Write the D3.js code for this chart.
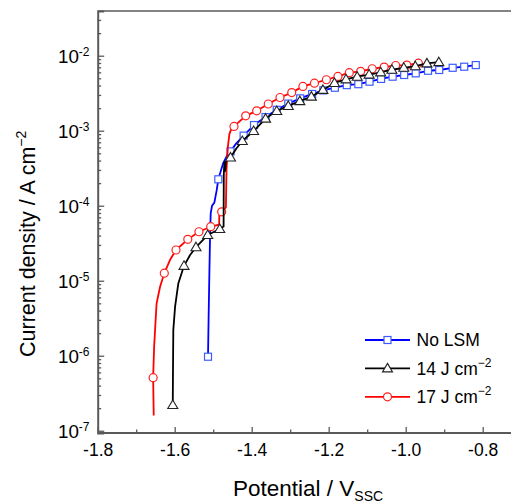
<!DOCTYPE html>
<html>
<head>
<meta charset="utf-8">
<script type="text/javascript" src="https://cdn.jsdelivr.net/npm/d3@7"></script>
<style>
    body { margin: 0; background: #fff; }
    text { font-family: Arial, "Liberation Sans", sans-serif; fill: #000; }
</style>
</head>
<body>
<div id="chart"></div>
<script type="text/javascript">
    // [potential V, current A/cm2, marker?]
    var noLSM = [
        [-1.5135, 9.7e-7, 1], [-1.512, 3e-6, 0], [-1.510, 1.2e-5, 0], [-1.508, 4.3e-5, 0],
        [-1.5065, 7.9e-5, 0], [-1.503, 1.0e-4, 0], [-1.497, 1.1e-4, 0], [-1.491, 1.6e-4, 0],
        [-1.4867, 2.25e-4, 1], [-1.474, 3.7e-4, 0], [-1.461, 5.0e-4, 0], [-1.455, 5.3e-4, 1],
        [-1.440, 6.8e-4, 0], [-1.421, 8.6e-4, 1], [-1.394, 1.19e-3, 1], [-1.364, 1.52e-3, 1],
        [-1.335, 1.9e-3, 1], [-1.305, 2.3e-3, 1], [-1.274, 2.7e-3, 1], [-1.243, 3.09e-3, 1],
        [-1.214, 3.45e-3, 1], [-1.184, 3.74e-3, 1], [-1.153, 4.05e-3, 1], [-1.123, 4.17e-3, 1],
        [-1.094, 4.5e-3, 1], [-1.064, 4.9e-3, 1], [-1.034, 5.25e-3, 1], [-1.004, 5.53e-3, 1],
        [-0.974, 5.82e-3, 1], [-0.942, 6.3e-3, 1], [-0.913, 6.45e-3, 1], [-0.878, 6.9e-3, 1],
        [-0.848, 7.13e-3, 1], [-0.818, 7.5e-3, 1]
    ];
    var lsm14 = [
        [-1.605, 2.2e-7, 1], [-1.6045, 6e-7, 0], [-1.6036, 2.2e-6, 0], [-1.599, 4.5e-6, 0],
        [-1.5906, 9.2e-6, 0], [-1.5758, 1.58e-5, 1], [-1.56, 2.2e-5, 0], [-1.5447, 2.8e-5, 1],
        [-1.5143, 4.07e-5, 1], [-1.483, 4.9e-5, 1], [-1.473, 5.3e-5, 0], [-1.4725, 2.6e-4, 0],
        [-1.471, 3.8e-4, 0], [-1.469, 2.9e-4, 0], [-1.467, 3.9e-4, 0], [-1.455, 4.4e-4, 1],
        [-1.44, 5.8e-4, 0], [-1.4244, 7.3e-4, 1], [-1.395, 9.9e-4, 1], [-1.364, 1.45e-3, 1],
        [-1.335, 1.83e-3, 1], [-1.305, 2.14e-3, 1], [-1.275, 2.48e-3, 1], [-1.245, 2.85e-3, 1],
        [-1.215, 3.5e-3, 1], [-1.185, 4.33e-3, 1], [-1.155, 4.84e-3, 1], [-1.126, 5.25e-3, 1],
        [-1.095, 5.6e-3, 1], [-1.065, 6.0e-3, 1], [-1.036, 6.5e-3, 1], [-1.005, 6.9e-3, 1],
        [-0.975, 7.25e-3, 1], [-0.945, 7.9e-3, 1], [-0.914, 8.2e-3, 1]
    ];
    var lsm17 = [
        [-1.6545, 1.6e-7, 0], [-1.656, 5.1e-7, 1], [-1.6535, 1.3e-6, 0], [-1.651, 2.2e-6, 0],
        [-1.647, 5e-6, 0], [-1.638, 8.3e-6, 0], [-1.627, 1.26e-5, 1], [-1.612, 1.9e-5, 0],
        [-1.5966, 2.57e-5, 1], [-1.566, 3.56e-5, 1], [-1.537, 4.5e-5, 1], [-1.5065, 5.25e-5, 1],
        [-1.4845, 5.6e-5, 0], [-1.484, 8.5e-5, 0], [-1.478, 8.3e-5, 1], [-1.467, 9.5e-5, 0],
        [-1.4655, 3.0e-4, 0], [-1.462, 6.0e-4, 0], [-1.458, 9.0e-4, 0], [-1.453, 1.05e-3, 0],
        [-1.446, 1.14e-3, 1], [-1.4156, 1.58e-3, 1], [-1.387, 1.84e-3, 1], [-1.357, 2.27e-3, 1],
        [-1.3265, 2.77e-3, 1], [-1.296, 3.22e-3, 1], [-1.267, 3.9e-3, 1], [-1.237, 4.3e-3, 1],
        [-1.206, 4.78e-3, 1], [-1.176, 5.3e-3, 1], [-1.1465, 5.94e-3, 1], [-1.117, 6.2e-3, 1],
        [-1.087, 6.7e-3, 1], [-1.056, 7.05e-3, 1], [-1.026, 7.4e-3, 1], [-0.997, 7.5e-3, 1],
        [-0.967, 7.95e-3, 1]
    ];

    var seriesNames = ["No LSM", "14 J cm", "17 J cm"];
    var seriesSups = ["", "\u22122", "\u22122"];
    var xTicks = [-1.8, -1.6, -1.4, -1.2, -1.0, -0.8];
    var xMinor = [-1.7, -1.5, -1.3, -1.1, -0.9];
    var yExps = [-7, -6, -5, -4, -3, -2];

    var width = 511, height = 504;
    var plotL = 97.7, plotR = 521.2, plotT = 11, plotB = 433;

    var svg = d3.select("#chart").append("svg")
        .attr("width", width)
        .attr("height", height);

    var x = d3.scaleLinear().domain([-1.8, -0.7]).range([plotL, plotR]);
    var y = d3.scaleLog().domain([Math.pow(10, -7.03), Math.pow(10, -1.404)]).range([plotB, plotT]);

    var axisColor = "#5a5a5a";

    // minor y ticks 2..9 of each decade
    var yMinor = [];
    for (var e = -7; e <= -2; e++) {
        for (var k = 2; k <= 9; k++) {
            var v = k * Math.pow(10, e);
            if (v < y.domain()[1]) yMinor.push(v);
        }
    }

    var gx = svg.append("g").attr("transform", "translate(0," + plotB + ")");
    gx.call(d3.axisBottom(x).tickValues(xTicks).tickSize(-6).tickPadding(11)
        .tickFormat(function (d) { return d.toFixed(1); }));
    gx.selectAll(".tick text").style("font-size", "17.5px").attr("fill", "#000");
    gx.select(".domain").attr("d", "M" + plotL + ",0H" + width);

    var gxm = svg.append("g").attr("transform", "translate(0," + plotB + ")");
    gxm.call(d3.axisBottom(x).tickValues(xMinor).tickSize(-3.5).tickFormat(""));
    gxm.select(".domain").remove();

    var gy = svg.append("g").attr("transform", "translate(" + plotL + ",0)");
    gy.call(d3.axisLeft(y).tickValues(yExps.map(function (d) { return Math.pow(10, d); }))
        .tickSize(-6.5).tickFormat(""));
    var gym = svg.append("g").attr("transform", "translate(" + plotL + ",0)");
    gym.call(d3.axisLeft(y).tickValues(yMinor).tickSize(-3.5).tickFormat(""));
    gym.select(".domain").remove();

    svg.selectAll(".domain").attr("stroke", axisColor).attr("stroke-width", 2);
    svg.selectAll(".tick line").attr("stroke", axisColor).attr("stroke-width", 1.3);

    // top frame line
    svg.append("line")
        .attr("x1", plotL).attr("x2", width)
        .attr("y1", plotT).attr("y2", plotT)
        .attr("stroke", axisColor).attr("stroke-width", 1.5);

    // y tick labels 10^n
    var ylab = svg.append("g").selectAll("text").data(yExps).enter().append("text")
        .attr("x", 89.5)
        .attr("y", function (d) { return y(Math.pow(10, d)) + 7.6; })
        .attr("text-anchor", "end")
        .style("font-size", "18.8px");
    ylab.append("tspan").text("10");
    ylab.append("tspan").attr("dy", -7.6).style("font-size", "12px")
        .text(function (d) { return String(d); });

    // axis titles
    var yt = svg.append("text")
        .attr("transform", "translate(34.5,357) rotate(-90)")
        .style("font-size", "21.5px");
    yt.append("tspan").text("Current density / A cm");
    yt.append("tspan").attr("dy", -9).style("font-size", "14px").text("\u22122");

    var xt = svg.append("text")
        .attr("x", 233).attr("y", 496)
        .style("font-size", "22.5px");
    xt.append("tspan").text("Potential / V");
    xt.append("tspan").attr("dy", 5).style("font-size", "14px").text("SSC");

    var line = d3.line()
        .x(function (d) { return x(d[0]); })
        .y(function (d) { return y(d[1]); });

    function square(g, cx, cy, col) {
        g.append("rect").attr("x", cx - 3.5).attr("y", cy - 3.5)
            .attr("width", 7).attr("height", 7)
            .attr("fill", "#fff").attr("stroke", col).attr("stroke-width", 1.2);
    }
    function triangle(g, cx, cy, col) {
        g.append("path")
            .attr("d", "M" + cx + "," + (cy - 5) + "L" + (cx + 5) + "," + (cy + 3.5) + "L" + (cx - 5) + "," + (cy + 3.5) + "Z")
            .attr("fill", "#fff").attr("stroke", col).attr("stroke-width", 1.1);
    }
    function circle(g, cx, cy, col) {
        g.append("circle").attr("cx", cx).attr("cy", cy).attr("r", 4)
            .attr("fill", "#fff").attr("stroke", col).attr("stroke-width", 1.2);
    }

    var series = [
        { data: noLSM, line: "#0000ff", mark: "#3d5cff", sym: square },
        { data: lsm17, line: "#ff0000", mark: "#ff2020", sym: circle },
        { data: lsm14, line: "#000000", mark: "#222222", sym: triangle }
    ];

    series.forEach(function (s) {
        var g = svg.append("g");
        g.append("path")
            .attr("d", line(s.data))
            .attr("fill", "none")
            .attr("stroke", s.line)
            .attr("stroke-width", 1.8)
            .attr("stroke-linejoin", "round");
        s.data.filter(function (d) { return d[2]; }).forEach(function (d) {
            s.sym(g, x(d[0]), y(d[1]), s.mark);
        });
    });

    // legend
    var legendRows = [
        { name: seriesNames[0], sup: seriesSups[0], s: series[0] },
        { name: seriesNames[1], sup: seriesSups[1], s: series[2] },
        { name: seriesNames[2], sup: seriesSups[2], s: series[1] }
    ];
    legendRows.forEach(function (r, i) {
        var ly = 340 + i * 28.4;
        var g = svg.append("g");
        g.append("line").attr("x1", 365).attr("x2", 410).attr("y1", ly).attr("y2", ly)
            .attr("stroke", r.s.line).attr("stroke-width", 1.8);
        r.s.sym(g, 387.5, ly, r.s.mark);
        var t = g.append("text").attr("x", 416.5).attr("y", ly + 6.2).style("font-size", "17.5px");
        t.append("tspan").text(r.name);
        if (r.sup) t.append("tspan").attr("dy", -8).style("font-size", "12px").text(r.sup);
    });
</script>
</body>
</html>
